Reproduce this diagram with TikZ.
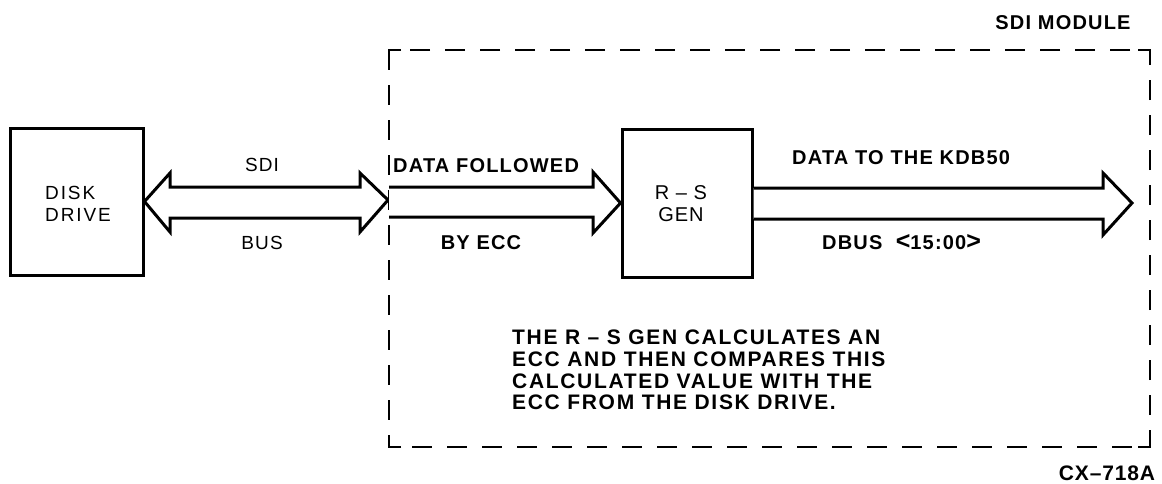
\documentclass[tikz,border=0pt]{standalone}
\usepackage{fontspec}
\setmainfont{Liberation Sans}
\usetikzlibrary{calc}
\begin{document}
\begin{tikzpicture}[x=1pt,y=-1pt,
  blk/.style={draw,line width=3pt,minimum width=#1,inner sep=0pt},
  fat/.style={draw,line width=3pt,line join=miter,fill=white},
  lbl/.style={inner sep=0pt,font=\fontsize{20}{22}\selectfont\bfseries\addfontfeature{LetterSpace=6}},
  lbr/.style={inner sep=0pt,font=\fontsize{19}{22}\selectfont\addfontfeature{LetterSpace=6}},
  modbox/.style={draw,line width=2.5pt,dash pattern=on 20pt off 15pt},
  corner/.style={line width=2.5pt}]
\useasboundingbox[fill=white] (0,0) rectangle (1162,483);
% boxes
\node[blk=133pt,minimum height=147pt] (disk) at (76.5,201.5) {};
\node[blk=130pt,minimum height=148pt] (rs) at (687,203) {};
\node[lbr,align=left,anchor=west,font=\fontsize{19}{22}\selectfont\addfontfeature{LetterSpace=10}] (disktxt) at (45,204) {DISK\\DRIVE};
\node[lbr,align=center,font=\fontsize{20}{22}\selectfont\addfontfeature{LetterSpace=5}] (rstxt) at (681,204) {R -- S\\GEN};
% dashed module outline
\coordinate (mtl) at (389,50);
\coordinate (mbr) at (1150,447);
\draw[modbox] (mtl) rectangle (mbr);
\draw[corner] (401,50) -- (389,50) -- (389,62);
\draw[corner] (401,447) -- (389,447) -- (389,435);
\draw[corner] (1138,50) -- (1150,50) -- (1150,62);
\draw[corner] (1138,447) -- (1150,447) -- (1150,435);
\node[lbl] (sdimod) at (1063,23) {SDI MODULE};
\node[lbl,font=\fontsize{21}{22}\selectfont\bfseries\addfontfeature{LetterSpace=4}] (cx) at (1107,473) {CX--718A};
% SDI double arrow
\coordinate (a1) at (disk.east);
\coordinate (a2) at (388,200);
\draw[fat] (a1) -- (170,173) -- (170,187) -- (360,187) -- (360,173) -- (a2)
  -- (360,232) -- (360,218) -- (170,218) -- (170,232) -- cycle;
\node[lbr] (sdi) at (262,165) {SDI};
\node[lbr] (bus) at (262,243) {BUS};
% data followed by ecc arrow
\coordinate (b1) at (389,187);
\coordinate (b2) at (389,217);
\draw[fat] (b1) -- (593,187) -- (593,172) -- (rs.west) -- (593,233) -- (593,217) -- (b2);
\node[lbl,anchor=west] (df) at (393,166) {DATA FOLLOWED};
\node[lbl] (byecc) at (481,243) {BY ECC};
% DBUS arrow
\coordinate (c1) at ($(rs.east)+(0,-15)$);
\coordinate (c3) at ($(rs.east)+(0,16)$);
\coordinate (c2) at (1132,203);
\draw[fat] (c1) -- (1103,188) -- (1103,173) -- (c2) -- (1103,235) -- (1103,219) -- (c3);
\node[lbl,anchor=west] (kdb) at (792,158) {DATA TO THE KDB50};
\node[lbl,anchor=west] (dbus) at (822,242) {DBUS\enspace\,{\addfontfeature{LetterSpace=0}\fontsize{25}{22}\selectfont\raisebox{-0.5pt}{<}}15:00{\addfontfeature{LetterSpace=0}\fontsize{25}{22}\selectfont\raisebox{-0.5pt}{>}}};
% note
\node[lbl,anchor=north west,align=left,font=\fontsize{21}{21.7}\selectfont\bfseries\addfontfeature{LetterSpace=8}] (note) at (512,330)
 {THE R -- S GEN CALCULATES AN\\ECC AND THEN COMPARES THIS\\CALCULATED VALUE WITH THE\\ECC FROM THE DISK DRIVE.};
\end{tikzpicture}
\end{document}
